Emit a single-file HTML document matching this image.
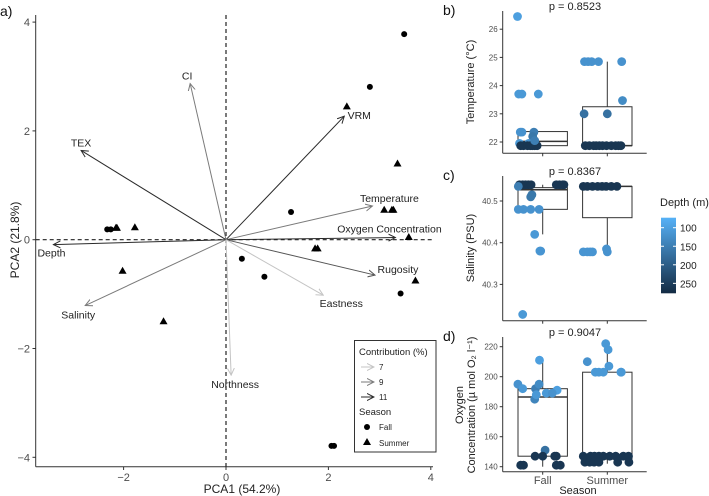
<!DOCTYPE html>
<html><head><meta charset="utf-8"><style>
body{margin:0;background:#fff}
svg{display:block;font-family:"Liberation Sans",sans-serif}
</style></head><body>
<svg id="fig" width="709" height="496" viewBox="0 0 709 496">
<defs>
<marker id="ah7" markerWidth="8" markerHeight="8" refX="7" refY="4" orient="auto" markerUnits="userSpaceOnUse"><path d="M0,0.5 L7,4 L0,7.5" fill="none" stroke="#c4c4c4" stroke-width="1"/></marker>
<marker id="ah9" markerWidth="8" markerHeight="8" refX="7" refY="4" orient="auto" markerUnits="userSpaceOnUse"><path d="M0,0.5 L7,4 L0,7.5" fill="none" stroke="#7a7a7a" stroke-width="1"/></marker>
<marker id="ah10" markerWidth="8" markerHeight="8" refX="7" refY="4" orient="auto" markerUnits="userSpaceOnUse"><path d="M0,0.5 L7,4 L0,7.5" fill="none" stroke="#555" stroke-width="1"/></marker>
<marker id="ah11" markerWidth="8" markerHeight="8" refX="7" refY="4" orient="auto" markerUnits="userSpaceOnUse"><path d="M0,0.5 L7,4 L0,7.5" fill="none" stroke="#2a2a2a" stroke-width="1"/></marker>
<linearGradient id="cbar" x1="0" y1="0" x2="0" y2="1"><stop offset="0" stop-color="#56B1F7"/><stop offset="1" stop-color="#132B43"/></linearGradient>
</defs>
<g id="pca"></g>
<g id="right"></g>
</svg>
<script>
// ---------- PCA data ----------
const fallX = [3.48, 2.81, 1.27, 0.31, 0.75, 3.41, 2.06, 2.11, -2.32, -2.25];
const fallY = [3.78, 2.81, 0.51, -0.35, -0.68, -0.99, -3.79, -3.79, 0.19, 0.19];
const sumX = [2.36, 3.35, 3.09, 3.24, 3.27, 3.57, 1.74, 1.79, 3.70, -2.15, -2.13, -1.78, -2.02, -1.22];
const sumY = [2.45, 1.40, 0.55, 0.55, 0.55, 0.05, -0.16, -0.16, -0.75, 0.22, 0.22, 0.23, -0.57, -1.50];
const varNames = ["CI","VRM","TEX","Temperature","Oxygen Concentration","Depth","Rugosity","Eastness","Salinity","Northness"];
const varX = [-0.70, 2.31, -2.83, 2.86, 3.31, -3.37, 2.91, 1.90, -2.75, 0.10];
const varY = [2.87, 2.27, 1.64, 0.62, 0.04, -0.09, -0.65, -1.02, -1.21, -2.49];
const varContrib = [9, 11, 11, 9, 11, 11, 10, 7, 9, 7];
const xTicks = [-2, 0, 2, 4];
const yTicks = [-4, -2, 0, 2, 4];

const NS = "http://www.w3.org/2000/svg";
function mk(parent, tag, attrs, text){
  const e = document.createElementNS(NS, tag);
  for (const k in attrs) e.setAttribute(k, attrs[k]);
  if (text !== undefined) e.textContent = text;
  parent.appendChild(e);
  return e;
}
const pca = document.getElementById('pca');
const px = v => 226 + v * 51.2;
const py = v => 239.7 - v * 54.4;
let e;
e = mk(pca,'line',{x1:35.7,y1:15,x2:35.7,y2:466.7,stroke:'#333','stroke-width':1});
 
e = mk(pca,'line',{x1:35.7,y1:466.7,x2:433,y2:466.7,stroke:'#333','stroke-width':1});
 
e = mk(pca,'line',{x1:px(0),y1:15,x2:px(0),y2:466.7,stroke:'#222','stroke-width':1.2,'stroke-dasharray':'4,3'});
 
e = mk(pca,'line',{x1:35.7,y1:py(0),x2:433,y2:py(0),stroke:'#222','stroke-width':1.2,'stroke-dasharray':'4,3'});
 
xTicks.forEach(t=>{
  mk(pca,'line',{x1:px(t),y1:466.7,x2:px(t),y2:470,stroke:'#333'});
  e = mk(pca,'text',{x:px(t),y:481,'text-anchor':'middle','font-size':11,fill:'#4d4d4d'}, t<0?'\u2212'+(-t):String(t));
   
});
yTicks.forEach(t=>{
  mk(pca,'line',{x1:32.5,y1:py(t),x2:35.7,y2:py(t),stroke:'#333'});
  e = mk(pca,'text',{x:30,y:py(t)+4,'text-anchor':'end','font-size':11,fill:'#4d4d4d'}, t<0?'\u2212'+(-t):String(t));
   
});
e = mk(pca,'text',{x:242,y:493,'text-anchor':'middle','font-size':12,fill:'#222'},'PCA1 (54.2%)');
 
e = mk(pca,'text',{x:19,y:240,'text-anchor':'middle','font-size':12,fill:'#222',transform:'rotate(-90 19 240)'},'PCA2 (21.8%)');
 
e = mk(pca,'text',{x:0,y:16,'font-size':14,fill:'#111'},'a)');
 

const contribColor = {7:'#c4c4c4',9:'#7a7a7a',10:'#555',11:'#2a2a2a'};
const labelDx = [-3, 15, 0, 17, -6, -2, 23, 18, -7, 4];
const labelDy = [-4, 3, -4, -4, -5, 12, -2, 12, 13, 13];
varNames.forEach((n,i)=>{
  e = mk(pca,'line',{x1:px(0),y1:py(0),x2:px(varX[i]),y2:py(varY[i]),stroke:contribColor[varContrib[i]],'stroke-width':1,'marker-end':'url(#ah'+varContrib[i]+')'});
   
  e = mk(pca,'text',{x:px(varX[i])+labelDx[i],y:py(varY[i])+labelDy[i],'text-anchor':'middle','font-size':10.5,fill:'#222'},n);
   
});
fallX.forEach((v,i)=>{
  e = mk(pca,'circle',{cx:px(v),cy:py(fallY[i]),r:3,fill:'#000'});
   
});
sumX.forEach((v,i)=>{
  const x=px(v), y=py(sumY[i]);
  e = mk(pca,'path',{d:`M${x},${y-4} L${x+4},${y+3} L${x-4},${y+3} Z`,fill:'#000'});
   
});
const lg = mk(pca,'g',{});
 
mk(lg,'rect',{x:354.5,y:340.5,width:81.5,height:111.5,fill:'#fff',stroke:'#333','stroke-width':1});
mk(lg,'text',{x:359,y:355,'font-size':9.5,fill:'#222'},'Contribution (%)');
[[7,'#c4c4c4',367],[9,'#7a7a7a',382],[11,'#2a2a2a',397]].forEach(([v,c,y])=>{
  e = mk(lg,'line',{x1:361,y1:y,x2:374,y2:y,stroke:c,'marker-end':'url(#ah'+v+')'});
   
  mk(lg,'text',{x:379,y:y+3,'font-size':8,fill:'#222'},String(v));
});
mk(lg,'text',{x:359,y:415,'font-size':9.5,fill:'#222'},'Season');
mk(lg,'circle',{cx:367,cy:427,r:3,fill:'#000'});
mk(lg,'text',{x:379,y:430,'font-size':8,fill:'#222'},'Fall');
mk(lg,'path',{d:'M367,438 L371,445 L363,445 Z',fill:'#000'});
mk(lg,'text',{x:379,y:446,'font-size':8,fill:'#222'},'Summer');

// ---------- Boxplot data ----------
const groups = ["Fall","Summer"];
const tG = [0,0,0,0,0,0,0,0,0,0,0,0,0,0,0,0,0,0, 1,1,1,1,1,1,1,1,1,1,1,1,1,1,1,1,1,1,1];
const tJ = [-0.63,-0.6,-0.52,-0.11,-0.56,-0.52,-0.22,-0.25,-0.58,-0.35,-0.55,-0.48,-0.38,-0.31,-0.26,-0.2,-0.14,-0.2, -0.57,-0.48,-0.39,-0.22,0.36,0.38,-0.58,0.0,-0.55,-0.45,-0.34,-0.28,-0.2,-0.12,-0.02,0.1,0.21,0.28,0.34];
const tV = [26.45,23.7,23.7,23.7,22.35,22.35,22.35,22.2,21.95,21.95,21.87,21.87,21.87,21.87,21.87,21.87,21.87,22.05, 24.85,24.85,24.85,24.85,24.85,23.47,23.0,23.0,21.87,21.87,21.87,21.87,21.87,21.87,21.87,21.87,21.87,21.87,21.87];
const tD = [100,110,110,110,120,120,150,160,110,120,260,260,260,260,260,260,260,150, 120,120,120,120,120,130,170,170,260,260,260,260,260,260,260,260,260,260,260];
const tBox = {q1:[21.87,21.87], med:[22.02,21.87], q3:[22.37,23.25], lo:[21.87,21.87], hi:[22.37,24.85]};
const tTicks = [22,23,24,25,26];

const sG = [0,0,0,0,0,0,0,0,0,0,0,0,0,0,0,0,0,0,0,0, 1,1,1,1,1,1,1,1,1,1,1,1,1,1];
const sJ = [-0.58,-0.5,-0.43,-0.36,-0.29,0.34,0.42,0.5,0.53,-0.61,-0.3,-0.27,-0.61,-0.48,-0.3,-0.09,-0.2,-0.05,-0.07,-0.5, -0.6,-0.5,-0.37,-0.24,-0.13,-0.03,0.1,0.24,-0.6,-0.5,-0.43,-0.37,-0.02,0.0];
const sV = [40.539,40.539,40.539,40.539,40.539,40.539,40.539,40.539,40.539,40.535,40.51,40.515,40.48,40.48,40.48,40.48,40.42,40.38,40.38,40.228, 40.535,40.535,40.535,40.535,40.535,40.535,40.535,40.535,40.378,40.378,40.378,40.378,40.385,40.378];
const sD = [260,260,260,260,260,260,260,260,260,150,160,160,120,120,120,120,110,115,115,110, 260,260,260,260,260,260,260,260,115,115,115,115,120,120];
const sBox = {q1:[40.48,40.46], med:[40.527,40.535], q3:[40.532,40.535], lo:[40.42,40.38], hi:[40.539,40.539]};
const sTicks = [40.3,40.4,40.5];

const oG = [0,0,0,0,0,0,0,0,0,0,0,0,0,0,0,0,0,0,0, 1,1,1,1,1,1,1,1,1,1,1,1,1,1,1,1,1,1,1,1,1,1,1,1];
const oJ = [-0.62,-0.5,-0.2,-0.18,-0.09,0.09,0.36,0.24,-0.08,0.06,-0.19,0,0.3,0.34,-0.55,-0.48,0.34,0.44,-0.16, -0.5,-0.04,0.02,0.04,-0.3,-0.21,-0.1,0.34,0.35,-0.6,-0.42,-0.32,-0.21,-0.1,0.06,0.21,0.4,0.53,-0.56,-0.44,-0.33,-0.21,0.26,0.54];
const oV = [195,192,185,192,195,189,191,189,211,151,147,147,147,147,141,141,141,141,188, 210,222,218,207,203,203,203,203,203,147,147,147,147,147,147,147,147,147,143,143,143,143,143,143];
const oD = [120,110,140,150,130,110,100,120,100,170,260,260,260,260,260,260,260,260,110, 120,110,110,110,110,110,110,110,110,260,260,260,260,260,260,260,260,260,260,260,260,260,260,260];
const oBox = {q1:[147,145], med:[186.5,147], q3:[192,203], lo:[140,142], hi:[211,222]};
const oTicks = [140,160,180,200,220];

const R = document.getElementById('right');
const gx = [542.7, 607.3];
const jitterW = 40;
const axisX = 502.7, axisRight = 646.7;
function depthColor(d){
  const t = Math.max(0, Math.min(1, (d-73)/(277-73)));
  const a=[0x56,0xB1,0xF7], b=[0x13,0x2B,0x43];
  return 'rgb('+a.map((v,i)=>Math.round(v+(b[i]-v)*t)).join(',')+')';
}
function panel(o){
  const g = mk(R,'g',{});
   
  const sy = v => o.y0 - (v - o.v0) * o.k;
  e = mk(g,'line',{x1:axisX,y1:o.top,x2:axisX,y2:o.bottom,stroke:'#333'});
   
  e = mk(g,'line',{x1:axisX,y1:o.bottom,x2:axisRight,y2:o.bottom,stroke:'#333'});
   
  gx.forEach(x=>mk(g,'line',{x1:x,y1:o.bottom,x2:x,y2:o.bottom+3,stroke:'#333'}));
  o.ticks.forEach(t=>{
    mk(g,'line',{x1:axisX-3,y1:sy(t),x2:axisX,y2:sy(t),stroke:'#333'});
    e = mk(g,'text',{x:axisX-5,y:sy(t)+3,'text-anchor':'end','font-size':8,fill:'#4d4d4d'},String(t));
     
  });
  [0,1].forEach(i=>{
    const b = o.box, x = gx[i], hw = 24.7;
    e = mk(g,'line',{x1:x,y1:sy(b.hi[i]),x2:x,y2:sy(b.q3[i]),stroke:'#333'});
     
    e = mk(g,'line',{x1:x,y1:sy(b.q1[i]),x2:x,y2:sy(b.lo[i]),stroke:'#333'});
     
    e = mk(g,'rect',{x:x-hw,y:sy(b.q3[i]),width:hw*2,height:Math.max(0.5,sy(b.q1[i])-sy(b.q3[i])),fill:'#fff',stroke:'#333','stroke-width':1});
     
    e = mk(g,'line',{x1:x-hw,y1:sy(b.med[i]),x2:x+hw,y2:sy(b.med[i]),stroke:'#333','stroke-width':1.5});
     
  });
  o.G.forEach((gi,i)=>{
    e = mk(g,'circle',{cx:gx[gi]+o.J[i]*jitterW,cy:sy(o.V[i]),r:4.4,fill:depthColor(o.D[i])});
     
  });
  e = mk(g,'text',{x:575,y:o.top-1,'text-anchor':'middle','font-size':11,fill:'#222'},o.p);
   
  e = mk(g,'text',{x:443,y:o.top+4,'font-size':14,fill:'#111'},o.letter);
   
  return g;
}
panel({name:'temperature-panel',top:11,bottom:153.3,y0:142,v0:22,k:28.2,ticks:tTicks,box:tBox,G:tG,J:tJ,V:tV,D:tD,p:'p = 0.8523',letter:'b)'});
panel({name:'salinity-panel',top:176,bottom:320.7,y0:201,v0:40.5,k:417,ticks:sTicks,box:sBox,G:sG,J:sJ,V:sV,D:sD,p:'p = 0.8367',letter:'c)'});
panel({name:'oxygen-panel',top:337,bottom:471.7,y0:466.7,v0:140,k:1.5,ticks:oTicks,box:oBox,G:oG,J:oJ,V:oV,D:oD,p:'p = 0.9047',letter:'d)'});

e = mk(R,'text',{x:474,y:82,'text-anchor':'middle','font-size':11,fill:'#222',transform:'rotate(-90 474 82)'},'Temperature (°C)');
 
e = mk(R,'text',{x:474,y:248,'text-anchor':'middle','font-size':11,fill:'#222',transform:'rotate(-90 474 248)'},'Salinity (PSU)');
 
const ot = mk(R,'text',{x:463,y:405,'text-anchor':'middle','font-size':11,fill:'#222',transform:'rotate(-90 463 405)'});
 
mk(ot,'tspan',{x:463,dy:0},'Oxygen');
mk(ot,'tspan',{x:463,dy:12},'Concentration (µ mol O₂ l⁻¹)');
groups.forEach((n,i)=>{
  e = mk(R,'text',{x:gx[i],y:484,'text-anchor':'middle','font-size':11,fill:'#4d4d4d'},n);
   
});
e = mk(R,'text',{x:578,y:494,'text-anchor':'middle','font-size':11,fill:'#222'},'Season');
 
const cb = mk(R,'g',{});
 
mk(cb,'text',{x:660,y:206,'font-size':11,fill:'#222'},'Depth (m)');
mk(cb,'rect',{x:661,y:217.7,width:15,height:75.6,fill:'url(#cbar)'});
[100,150,200,250].forEach(d=>{
  const y = 227.7 + (d-100)*0.371;
  mk(cb,'line',{x1:661,y1:y,x2:664,y2:y,stroke:'#fff'});
  mk(cb,'line',{x1:673,y1:y,x2:676,y2:y,stroke:'#fff'});
  mk(cb,'text',{x:680,y:y+4,'font-size':10,fill:'#222'},String(d));
});
</script>
</body></html>
